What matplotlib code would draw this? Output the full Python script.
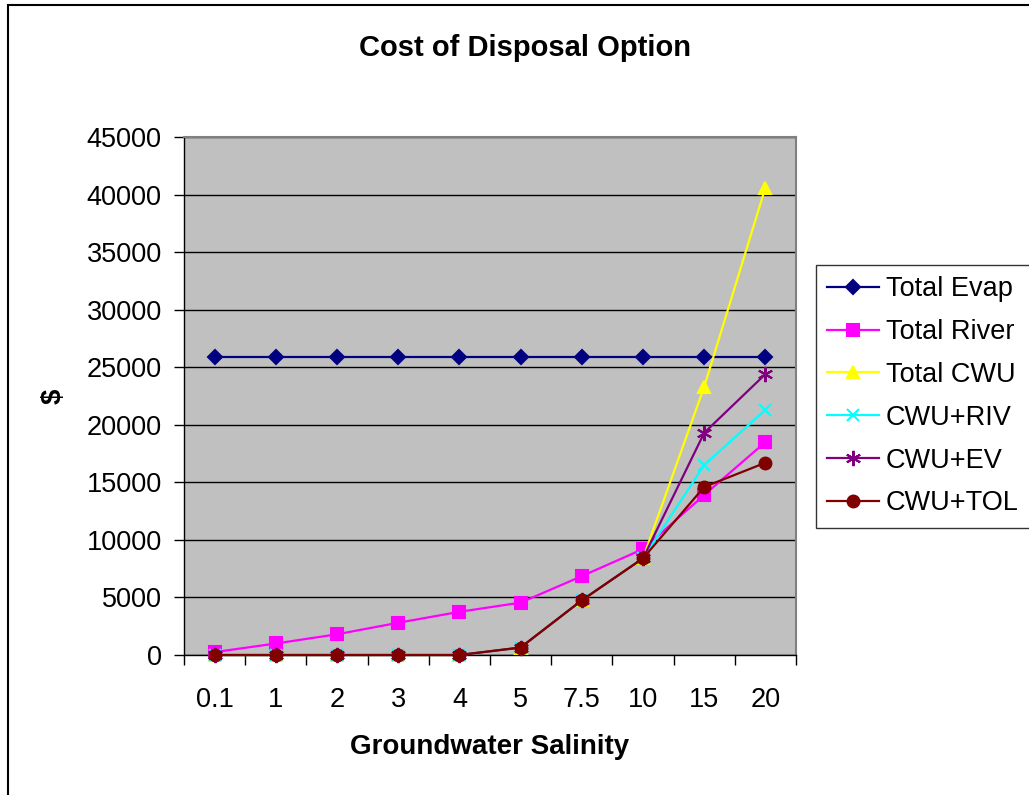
import matplotlib
matplotlib.use("Agg")
import matplotlib.pyplot as plt
from matplotlib.patches import Rectangle

categories = ["0.1", "1", "2", "3", "4", "5", "7.5", "10", "15", "20"]
total_evap = [25900] * 10
total_river = [250, 1000, 1800, 2800, 3750, 4550, 6850, 9200, 13900, 18500]
total_cwu = [0, 0, 0, 0, 0, 650, 4750, 8400, 23300, 40600]
cwu_riv = [0, 0, 0, 0, 0, 650, 4750, 8400, 16500, 21300]
cwu_ev = [0, 0, 0, 0, 0, 650, 4750, 8400, 19300, 24400]
cwu_tol = [0, 0, 0, 0, 0, 650, 4750, 8400, 14600, 16700]
yticks = [0, 5000, 10000, 15000, 20000, 25000, 30000, 35000, 40000, 45000]

plt.rcParams['font.family'] = ['Liberation Sans', 'DejaVu Sans']

fig = plt.figure(figsize=(10.29, 7.95), dpi=100)
ax = fig.add_axes([184/1029, 1-655/795, (796-184)/1029, (655-137)/795])
ax.set_facecolor('#C0C0C0')

x = list(range(len(categories)))
series = [
    ("Total Evap", total_evap, '#000080', 'D', 7),
    ("Total River", total_river, '#FF00FF', 's', 8.5),
    ("Total CWU", total_cwu, '#FFFF00', '^', 9),
    ("CWU+RIV", cwu_riv, '#00FFFF', 'x', 9),
    ("CWU+EV", cwu_ev, '#800080', (6, 2, 0), 11),
    ("CWU+TOL", cwu_tol, '#800000', 'o', 8.5),
]
for name, vals, col, mk, ms in series:
    ax.plot(x, vals, color=col, marker=mk, markersize=ms, lw=1.6,
            markerfacecolor=col, markeredgecolor=col, markeredgewidth=1.5,
            label=name, clip_on=False, zorder=3)

ax.set_xlim(-0.5, len(categories) - 0.5)
ax.set_ylim(0, 45000)
ax.set_yticks(yticks)
ax.set_yticklabels([str(v) for v in yticks], fontsize=19.5)
ax.yaxis.grid(True, color='black', lw=1)
ax.set_axisbelow(True)
ax.set_xticks(x)
ax.set_xticklabels(categories, fontsize=19.5)
ax.set_xticks([i - 0.5 for i in range(len(categories) + 1)], minor=True)
ax.tick_params(axis='x', which='major', length=0, pad=23)
ax.tick_params(axis='x', which='minor', length=7, color='black', width=1)
ax.tick_params(axis='y', length=7, color='black', width=1, pad=9)
for s in ['top', 'right']:
    ax.spines[s].set_color('#808080')
    ax.spines[s].set_linewidth(1.5)
for s in ['left', 'bottom']:
    ax.spines[s].set_color('black')
    ax.spines[s].set_linewidth(1)

fig.text(525/1029, 1-48/795, "Cost of Disposal Option", ha='center', va='center',
         fontsize=21, fontweight='bold')
fig.text(490/1029, 1-747/795, "Groundwater Salinity", ha='center', va='center',
         fontsize=20, fontweight='bold')
fig.text(54/1029, 1-396/795, "$", ha='center', va='center', rotation=90,
         fontsize=20, fontweight='bold')

leg = fig.legend(loc='upper left', bbox_to_anchor=(816/1029, 1-265/795),
                 fontsize=19.5, frameon=True, fancybox=False, handlelength=1.9,
                 handletextpad=0.26, labelspacing=0.62, borderpad=0.42, borderaxespad=0)
leg.get_frame().set_edgecolor('black')
leg.get_frame().set_linewidth(1)

fig.patches.append(Rectangle((8/1029, -0.1), 1.2, 1.1 - 5/795, transform=fig.transFigure,
                             fill=False, edgecolor='black', lw=1.5))

fig.savefig("out.png", dpi=100)
